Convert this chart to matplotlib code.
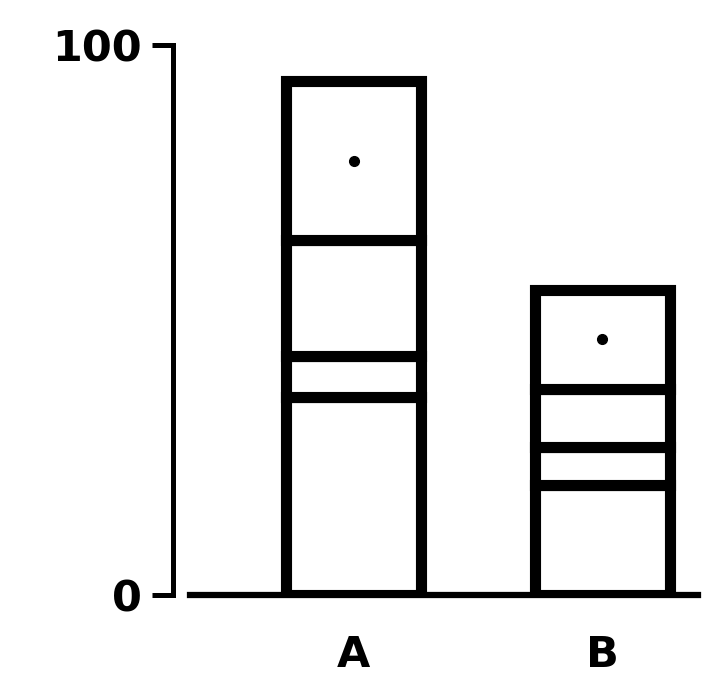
import matplotlib
matplotlib.use("Agg")
import matplotlib.pyplot as plt
import numpy as np

# Data
categories = ["A", "B"]
segments_A = [36, 7.5, 21, 29]
segments_B = [20, 7, 10.5, 18]
ytick_values = [0, 100]
ytick_labels = ["0", "100"]

DPI = 100
fig = plt.figure(figsize=(7.18, 6.93), dpi=DPI)
ax = fig.add_axes([190 / 718, 98 / 693, 508 / 718, 550 / 693])

x = np.arange(len(categories))
bar_width = 0.542
edge_lw = 8.0

stacks = [segments_A, segments_B]
for xi, segs in zip(x, stacks):
    bottom = 0.0
    for s in segs:
        ax.bar(xi, s, bottom=bottom, width=bar_width, color="white",
               edgecolor="black", linewidth=edge_lw, joinstyle="miter", zorder=2)
        bottom += s
    # dot in the middle of the top segment
    top_mid = bottom - segs[-1] / 2
    ax.plot(xi, top_mid, "o", color="black", markersize=7, zorder=3)

ax.set_xlim(-0.657, 1.384)
ax.set_ylim(0, 100)

for side in ["top", "right"]:
    ax.spines[side].set_visible(False)
ax.spines["left"].set_position(("outward", 12.5))
ax.spines["left"].set_linewidth(3.6)
ax.spines["left"].set_capstyle("projecting")
ax.spines["bottom"].set_linewidth(4.5)
ax.spines["bottom"].set_zorder(4)

ax.set_yticks(ytick_values)
ax.set_yticklabels(ytick_labels, fontsize=31, fontweight="bold", family="DejaVu Sans")
ax.tick_params(axis="y", direction="out", length=15, width=3.6, pad=7)

ax.set_xticks(x)
ax.set_xticklabels(categories, fontsize=31, fontweight="bold", family="DejaVu Sans")
ax.tick_params(axis="x", length=0, pad=28)

fig.savefig("out.png", dpi=DPI, facecolor="white")
